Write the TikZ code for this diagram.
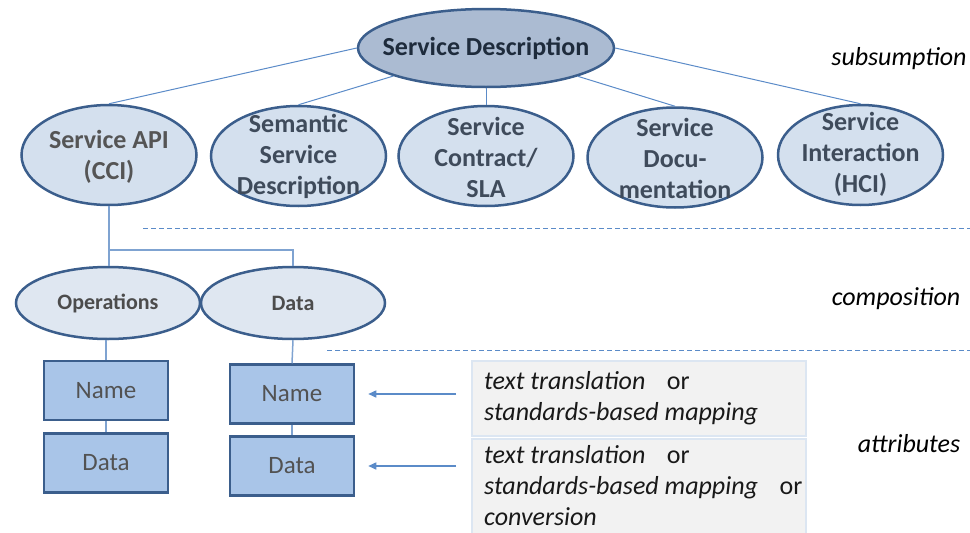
\documentclass[tikz,border=0pt]{standalone}
\usepackage{fontspec}
\setmainfont{Carlito}
\usetikzlibrary{shapes.geometric,arrows.meta}
\definecolor{edge}{HTML}{3B5E8C}
\definecolor{conn}{HTML}{5B8BC8}
\definecolor{treec}{HTML}{7FA3D1}
\definecolor{topfill}{HTML}{ABBBD2}
\definecolor{midfill}{HTML}{D4E0EE}
\definecolor{lowfill}{HTML}{DFE7F1}
\definecolor{rectfill}{HTML}{A9C5E8}
\definecolor{greyfill}{HTML}{F2F2F2}
\definecolor{greyedge}{HTML}{DCE6F2}
\definecolor{midtext}{HTML}{3F4B5B}
\definecolor{apitext}{HTML}{555555}
\definecolor{toptext}{HTML}{1E2B3C}
\tikzset{
  topell/.style={ellipse,draw=edge,line width=2.5pt,fill=topfill,minimum width=256pt,minimum height=78pt,inner sep=0pt},
  midell/.style={ellipse,draw=edge,line width=2.5pt,fill=midfill,minimum width=175pt,minimum height=100pt,inner sep=0pt},
  hciell/.style={midell,minimum width=165pt},
  lowell/.style={ellipse,draw=edge,line width=2.5pt,fill=lowfill,minimum width=184pt,minimum height=72pt,inner sep=0pt},
  attrbox/.style={rectangle,draw=edge,line width=2.5pt,fill=rectfill,minimum width=124pt,minimum height=59pt,inner sep=0pt},
  greybox/.style={rectangle,draw=greyedge,line width=2pt,fill=greyfill,inner sep=0pt},
  bigtxt/.style={font=\fontsize{26}{31}\selectfont\bfseries,align=center,inner sep=0pt},
  midtxt/.style={font=\fontsize{26}{31}\selectfont\bfseries,align=center,inner sep=0pt,text=midtext},
  lowtxt/.style={font=\fontsize{22}{26}\selectfont\bfseries,text=black!70,inner sep=0pt},
  recttxt/.style={font=\fontsize{25}{30}\selectfont,text=black!68},
  itxt/.style={font=\fontsize{26}{31}\selectfont,align=left,inner sep=0pt,text=black!90},
  side/.style={font=\fontsize{26}{31}\selectfont\itshape,inner sep=0pt,text=black},
  cline/.style={draw=conn,line width=1pt},
  tline/.style={draw=treec,line width=1.5pt},
  sepline/.style={draw=conn,line width=1pt,dash pattern=on 5pt off 3pt},
  arr/.style={draw=conn,line width=1.5pt,-{Triangle[length=8pt,width=7pt]}}
}
\begin{document}
\begin{tikzpicture}[x=1pt,y=-1pt]
\useasboundingbox (0,0) rectangle (970,533);
\clip (0,0) rectangle (970,533);
% top
\node[topell] (sd) at (486,48) {};
\node[bigtxt,text=toptext] (sdt) at (sd) {Service Description};
% level 2
\node[midell] (api) at (109,155) {};
\node[midtxt,text=apitext] (apit) at (109,157) {Service API\\(CCI)};
\node[midell] (sem) at (298.5,156) {};
\node[midtxt] (semt) at (298.5,156) {Semantic\\Service\\Description};
\node[midell] (con) at (486,156) {};
\node[midtxt] (cont) at (486,157) {Service\\Contract/\\SLA};
\node[midell] (doc) at (675,157.5) {};
\node[midtxt] (doct) at (675,158) {Service\\Docu-\\mentation};
\node[hciell] (hci) at (860.5,155) {};
\node[midtxt] (hcit) at (860.5,154) {Service\\Interaction\\(HCI)};
% connectors top
\draw[cline] (sd.west) -- (api.north);
\draw[cline] (sd) -- (sem.north);
\draw[cline] (sd.south) -- (con.north);
\draw[cline] (sd) -- (doc.north);
\draw[cline] (sd.east) -- (hci.north);
% separators
\draw[sepline] (143,228) -- (970,228);
\draw[sepline] (327,350) -- (970,350);
% level 3
\node[lowell] (ops) at (108,303) {};
\node[lowtxt] (opst) at (ops) {Operations};
\node[lowell] (dat) at (293,303) {};
\node[lowtxt] (datt) at (dat) {Data};
\coordinate (j) at (109,250);
\draw[tline] (api.south) -- (j) -- (j |- ops.north);
\draw[tline] (j) -- (j -| dat.north) -- (dat.north);
% attributes
\node[attrbox] (on) at (106,390.5) {};
\node[recttxt] (ont) at (on) {Name};
\node[attrbox] (od) at (106,463) {};
\node[recttxt] (odt) at (od) {Data};
\node[attrbox] (dn) at (292,394) {};
\node[recttxt] (dnt) at (dn) {Name};
\node[attrbox] (dd) at (292,466) {};
\node[recttxt] (ddt) at (dd) {Data};
\draw[tline] (on.north |- ops.south) -- (on.north);
\draw[tline] (on.south) -- (od.north);
\draw[tline] (dat.south) -- (dn.north);
\draw[tline] (dn.south) -- (dd.north);
% grey boxes
\node[greybox,minimum width=334pt,minimum height=75pt] (g1) at (639,398.5) {};
\node[greybox,minimum width=334pt,minimum height=106pt] (g2) at (639,492) {};
\node[itxt,anchor=west] (g1t) at (484,398.5) {\textit{text translation}\hspace{0.6em} or\\\textit{standards-based mapping}};
\node[itxt,anchor=west] (g2t) at (484,485.5) {\textit{text translation}\hspace{0.6em} or\\\textit{standards-based mapping}\hspace{0.6em} or\\\textit{conversion}};
\draw[arr,shorten <=15pt,shorten >=13pt] (g1.west |- dn.east) -- (dn.east);
\draw[arr,shorten <=15pt,shorten >=13pt] (g2.west |- dd.east) -- (dd.east);
% side labels
\node[side] (l1) at (899,59) {subsumption};
\node[side] (l2) at (896,299) {composition};
\node[side] (l3) at (909,444) {attributes};
\end{tikzpicture}
\end{document}
